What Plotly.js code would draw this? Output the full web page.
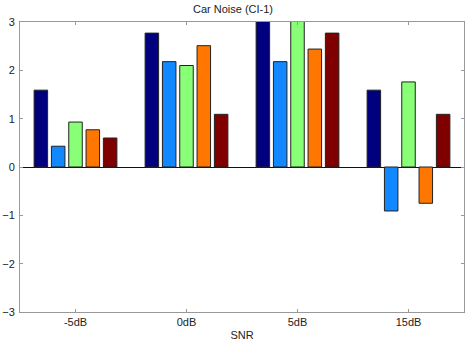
<!DOCTYPE html>
<html><head><meta charset="utf-8">
<script src="https://cdn.plot.ly/plotly-3.0.1.min.js"></script>
<style>html,body{margin:0;padding:0;background:#fff}#c{width:466px;height:347px}</style>
</head><body><div id="c"></div>
<script>
const categories = ["-5dB", "0dB", "5dB", "15dB"];
const series1 = [1.59, 2.77, 3.2, 1.59];
const series2 = [0.43, 2.18, 2.18, -0.91];
const series3 = [0.93, 2.10, 3.2, 1.76];
const series4 = [0.77, 2.51, 2.44, -0.75];
const series5 = [0.60, 1.09, 2.77, 1.09];
const colors = ["#00007f", "#1188ff", "#88ff77", "#ff7700", "#800000"];
const allSeries = [series1, series2, series3, series4, series5];

const traces = allSeries.map((s, i) => ({
  type: "bar", x: categories, y: s,
  marker: {color: colors[i], line: {color: "#222", width: 1}},
  showlegend: false, hoverinfo: "skip"
}));

const layout = {
  width: 466, height: 347,
  margin: {l: 20, r: 2, t: 22, b: 35},
  paper_bgcolor: "#fff", plot_bgcolor: "#fff",
  barmode: "group", bargap: 0.22, bargroupgap: 0.22,
  font: {family: "Liberation Sans, Arial, sans-serif", size: 11, color: "#222"},
  title: {text: "Car Noise (CI-1)", x: 0.5, xanchor: "center", y: 0.985, yanchor: "top", font: {size: 11, color: "#222"}},
  xaxis: {
    type: "category", range: [-0.5, 3.5],
    showline: true, linecolor: "#999", linewidth: 1, mirror: "ticks",
    ticks: "inside", ticklen: 3, tickcolor: "#999",
    showgrid: false, zeroline: false,
    title: {text: "SNR", standoff: 4, font: {size: 11}},
    tickfont: {size: 11}
  },
  yaxis: {
    range: [-3, 3], dtick: 1, tick0: 0,
    showline: true, linecolor: "#999", linewidth: 1, mirror: "ticks",
    ticks: "inside", ticklen: 3, tickcolor: "#999",
    showgrid: false, zeroline: true, zerolinecolor: "#111", zerolinewidth: 1,
    tickfont: {size: 11, color: "#222"}, ticklabelstandoff: 2
  }
};
Plotly.newPlot("c", traces, layout, {staticPlot: true});
</script></body></html>
